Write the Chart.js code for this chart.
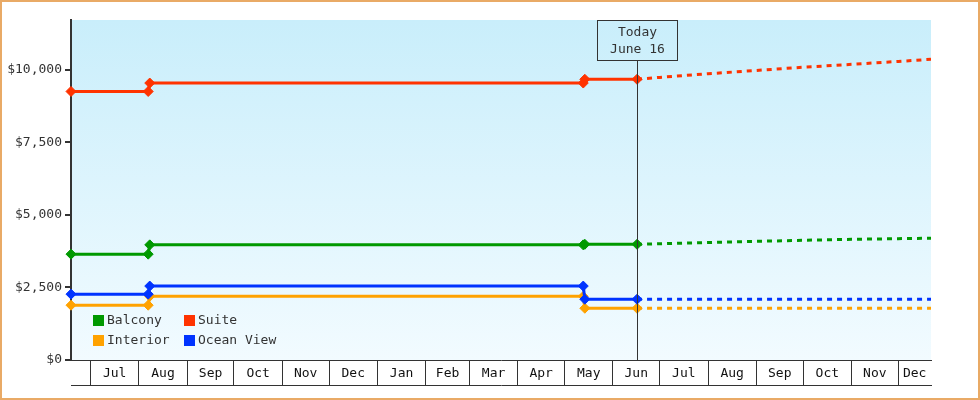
<!DOCTYPE html>
<html>
<head>
<meta charset="utf-8">
<style>
  html, body { margin: 0; padding: 0; background: #fff; }
  #wrap { position: relative; width: 980px; height: 400px; }
  #wrap::after { content: ""; position: absolute; inset: 0; border: 2px solid #e9aa66; pointer-events: none; }
  canvas { display: block; }
</style>
<script src="https://cdn.jsdelivr.net/npm/chart.js@4/dist/chart.umd.min.js"></script>
</head>
<body>
<div id="wrap"><canvas id="fares" width="980" height="400"></canvas></div>
<script>
const t = (s) => Date.parse(s.length > 10 ? s + 'Z' : s);

// price history (solid) and projection (dotted)
const historyDates = ['2017-06-18T12:00', '2017-08-07', '2017-08-08', '2018-05-13', '2018-05-14', '2018-06-16T12:00'];
const balcony = [3650, 3650, 3970, 3970, 3990, 3990];
const suite = [9260, 9260, 9550, 9550, 9680, 9680];
const interior = [1890, 1890, 2195, 2195, 1785, 1785];
const oceanView = [2270, 2270, 2550, 2550, 2095, 2095];

const projectionDates = ['2018-06-16T12:00', '2018-07-01', '2018-08-01', '2018-09-01', '2018-10-01', '2018-11-01', '2018-12-01', '2018-12-22'];
const balconyProj = [3990, 4010, 4050, 4090, 4130, 4160, 4185, 4200];
const suiteProj = [9680, 9745, 9870, 9985, 10095, 10195, 10295, 10370];
const interiorProj = [1785, 1785, 1785, 1785, 1785, 1785, 1785, 1785];
const oceanViewProj = [2095, 2095, 2095, 2095, 2095, 2095, 2095, 2095];

const monthStarts = ['2017-07-01', '2017-08-01', '2017-09-01', '2017-10-01', '2017-11-01', '2017-12-01',
  '2018-01-01', '2018-02-01', '2018-03-01', '2018-04-01', '2018-05-01', '2018-06-01',
  '2018-07-01', '2018-08-01', '2018-09-01', '2018-10-01', '2018-11-01', '2018-12-01'];
const monthNames = ['Jul', 'Aug', 'Sep', 'Oct', 'Nov', 'Dec', 'Jan', 'Feb', 'Mar', 'Apr', 'May', 'Jun',
  'Jul', 'Aug', 'Sep', 'Oct', 'Nov', 'Dec'];
const yTicks = [0, 2500, 5000, 7500, 10000];

const axisMin = t('2017-06-18T12:00');
const axisMax = t('2018-12-22');
const today = t('2018-06-16T12:00');
const todayText = ['Today', 'June 16'];
const legendOrder = ['Balcony', 'Suite', 'Interior', 'Ocean View'];

const colors = { Balcony: '#009900', Suite: '#ff3300', Interior: '#ffa200', 'Ocean View': '#0033ff' };
const FONT = '"DejaVu Sans Mono", monospace';

const pts = (dates, vals) => dates.map((d, i) => ({ x: t(d), y: vals[i] }));

function solid(label, vals) {
  return {
    label, data: pts(historyDates, vals),
    borderColor: colors[label], backgroundColor: colors[label],
    borderWidth: 3, pointStyle: 'rectRot', pointRadius: 5, pointBorderWidth: 1,
    tension: 0, clip: false
  };
}
function dotted(label, vals) {
  return {
    label: label + ' (projected)', data: pts(projectionDates, vals),
    borderColor: colors[label], borderWidth: 3, borderDash: [5, 5],
    pointRadius: 0, tension: 0
  };
}

// x ticks: month starts carry the box dividers, month middles carry the names
const xTicks = [];
monthStarts.forEach((d, i) => {
  const a = t(d);
  const b = Math.min(i + 1 < monthStarts.length ? t(monthStarts[i + 1]) : axisMax, axisMax);
  xTicks.push({ value: a, label: '', divider: true });
  xTicks.push({ value: (a + b) / 2, label: monthNames[i], divider: false });
});

const bgPlugin = {
  id: 'bg',
  beforeDraw(chart) {
    const { ctx, chartArea: a } = chart;
    const g = ctx.createLinearGradient(0, a.top, 0, a.bottom);
    g.addColorStop(0, '#c9eefb');
    g.addColorStop(1, '#f2fbff');
    ctx.save();
    ctx.fillStyle = g;
    ctx.fillRect(a.left, a.top, a.right - a.left, a.bottom - a.top);
    ctx.restore();
  }
};

const todayPlugin = {
  id: 'today',
  afterDatasetsDraw(chart) {
    const { ctx, chartArea: a } = chart;
    const x = Math.round(chart.scales.x.getPixelForValue(today)) + 0.5;
    const boxW = 80, boxH = 40, top = a.top + 0.5;
    ctx.save();
    ctx.strokeStyle = '#333';
    ctx.lineWidth = 1;
    ctx.beginPath();
    ctx.moveTo(x, a.bottom);
    ctx.lineTo(x, top + boxH);
    ctx.stroke();
    ctx.strokeRect(x - boxW / 2, top, boxW, boxH);
    ctx.fillStyle = '#333';
    ctx.font = '13px ' + FONT;
    ctx.textAlign = 'center';
    ctx.textBaseline = 'middle';
    ctx.fillText(todayText[0], x, top + 12);
    ctx.fillText(todayText[1], x, top + 29);
    ctx.restore();
  }
};

const legendPlugin = {
  id: 'cornerLegend',
  afterDatasetsDraw(chart) {
    const { ctx, chartArea: a } = chart;
    ctx.save();
    ctx.font = '13px ' + FONT;
    ctx.textBaseline = 'middle';
    legendOrder.forEach((name, i) => {
      const ds = chart.data.datasets.find(d => d.label === name);
      const x = a.left + 22 + (i % 2) * 91;
      const y = a.bottom - 45 + Math.floor(i / 2) * 20;
      ctx.fillStyle = ds.borderColor;
      ctx.fillRect(x, y, 11, 11);
      ctx.fillStyle = '#333';
      ctx.fillText(ds.label, x + 14, y + 6);
    });
    ctx.restore();
  }
};

Chart.defaults.font.family = FONT;
Chart.defaults.font.size = 13;

const isDivider = (c) => c.tick ? !!xTicks[c.index] && xTicks[c.index].divider : true;

new Chart(document.getElementById('fares'), {
  type: 'line',
  data: {
    datasets: [
      solid('Suite', suite),
      solid('Balcony', balcony),
      solid('Ocean View', oceanView),
      solid('Interior', interior),
      dotted('Suite', suiteProj),
      dotted('Balcony', balconyProj),
      dotted('Ocean View', oceanViewProj),
      dotted('Interior', interiorProj)
    ]
  },
  options: {
    responsive: false,
    animation: false,
    layout: { padding: { top: 20, right: 49, bottom: 15, left: 0 } },
    plugins: { legend: { display: false }, tooltip: { enabled: false } },
    scales: {
      x: {
        type: 'linear', position: 'bottom', min: axisMin, max: axisMax,
        afterBuildTicks: (s) => { s.ticks = xTicks.map(k => ({ value: k.value })); },
        afterFit: (s) => { s.height = 25; },
        ticks: {
          autoSkip: false, maxRotation: 0, padding: -19, color: '#111',
          callback: (v, i) => xTicks[i].label
        },
        grid: {
          drawOnChartArea: false, tickLength: 25,
          color: (c) => isDivider(c) ? '#333' : 'rgba(0,0,0,0)',
          lineWidth: (c) => isDivider(c) ? 1 : 0
        },
        border: { color: '#333', width: 1 }
      },
      xBase: {
        type: 'linear', position: 'bottom', min: axisMin, max: axisMax,
        afterFit: (s) => { s.height = 0; },
        ticks: { display: false },
        grid: { display: false, drawTicks: false },
        border: { display: true, color: '#333', width: 1 }
      },
      y: {
        min: 0, max: 11724,
        afterBuildTicks: (s) => { s.ticks = yTicks.map(v => ({ value: v })); },
        afterFit: (s) => { s.width = 71; },
        ticks: { padding: 3, color: '#333', callback: (v) => '$' + v.toLocaleString('en-US') },
        grid: { drawOnChartArea: false, tickLength: 6, color: '#333', lineWidth: 2 },
        border: { color: '#333', width: 2 }
      }
    }
  },
  plugins: [bgPlugin, todayPlugin, legendPlugin]
});
</script>
</body>
</html>
